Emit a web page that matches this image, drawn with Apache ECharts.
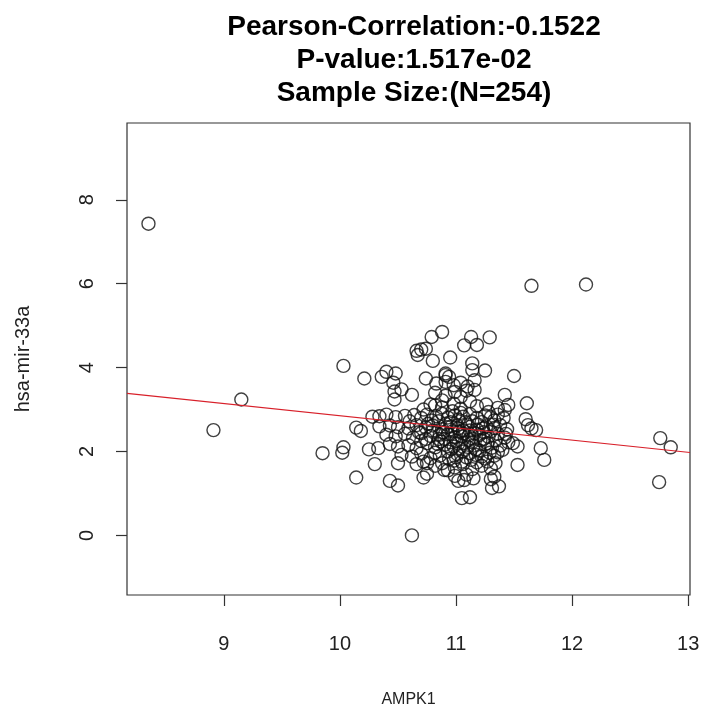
<!DOCTYPE html>
<html>
<head>
<meta charset="utf-8">
<script src="https://cdn.jsdelivr.net/npm/echarts@6/dist/echarts.min.js"></script>
<style>html,body{margin:0;padding:0;background:#fff;}#chart{width:704px;height:709px;}</style>
</head>
<body>
<div id="chart"></div>
<script>
// Chart text
var titleLines = ['Pearson-Correlation:-0.1522', 'P-value:1.517e-02', 'Sample Size:(N=254)'];
var xName = 'AMPK1';
var yName = 'hsa-mir-33a';
var xTicks = [9, 10, 11, 12, 13];
var yTicks = [0, 2, 4, 6, 8];
var xRange = [8.165, 13.016];
var yRange = [-1.42, 9.83];

// [AMPK1, hsa-mir-33a] pairs
var sparsePoints = [
  [8.35,7.43],[11.65,5.95],[12.12,5.98],[9.15,3.24],[8.91,2.51],[10.62,0.00],[12.76,2.32],[12.85,2.10],[12.75,1.27],
  [10.03,4.04],[9.85,1.96],[10.03,2.10],[10.02,1.97],[10.14,1.38],[10.21,3.74],[10.14,2.57],[10.18,2.49],[10.25,2.05],
  [10.33,2.08],[10.30,1.70],[10.28,2.83],[10.43,1.30],[10.50,1.19],[10.50,1.72],[10.36,3.78],[10.40,3.90],[10.48,3.86],
  [10.46,3.64],[10.53,3.48],[10.47,3.43],[10.47,3.24],[10.62,3.35],[10.66,4.40],[10.70,4.43],[10.74,4.45],[10.67,4.30],
  [10.79,4.73],[10.88,4.85],[10.80,4.16],[10.74,3.74],[10.95,4.24],[11.13,4.73],[11.07,4.53],[11.18,4.54],[11.29,4.72],
  [11.14,4.10],[11.25,3.93],[11.14,3.94],[11.16,3.70],[11.16,3.47],[11.50,3.80],[11.42,3.35],[11.45,3.11],[11.42,2.99],
  [11.61,3.15],[11.60,2.77],[11.62,2.63],[11.65,2.55],[11.69,2.51],[11.73,2.08],[11.76,1.80],[11.53,1.68],[11.49,2.20],
  [11.53,2.12],[11.45,2.22],[11.37,1.17],[11.31,1.13],[11.05,0.89],[11.12,0.91],[11.15,1.36],[11.07,1.32],[10.72,1.38],
  [10.75,1.47],[10.90,1.56],[10.72,1.76],[10.75,1.72],[10.91,3.82],[10.94,3.78],[10.91,3.86]
];
var clusterUpper = [
  [10.83,3.62],[10.91,3.66],[10.98,3.58],[11.04,3.64],[11.10,3.55],
  [10.82,3.40],[10.91,3.33],[10.99,3.42],[11.04,3.30],[11.09,3.45],
  [10.82,3.10],[10.88,3.05],[10.98,3.14],[11.04,3.02],[11.18,3.08],[11.26,3.12],[11.36,3.04],[10.72,3.00],
  [10.34,2.84],[10.40,2.88],[10.48,2.82],[10.56,2.85],[10.64,2.87],[10.70,2.80],[10.75,2.88],[10.83,2.84],[10.88,2.90],
  [10.93,2.81],[10.99,2.86],[11.06,2.83],[11.12,2.89],[11.18,2.80],[11.25,2.86],[11.30,2.82],[11.36,2.88],[11.41,2.80],
  [10.60,2.72],[10.79,2.74],[10.95,2.70],[11.02,2.76],[11.14,2.72],[11.22,2.70],[11.33,2.74]
];
var clusterMiddle = [
  [10.34,2.60],[10.43,2.62],[10.50,2.58],[10.59,2.55],[10.66,2.63],[10.74,2.57],[10.80,2.62],[10.88,2.53],[10.96,2.60],
  [11.02,2.55],[11.10,2.64],[11.18,2.52],[11.26,2.60],[11.33,2.56],[11.38,2.63],[11.44,2.53],[10.91,2.66],[11.06,2.50],
  [10.40,2.40],[10.48,2.36],[10.56,2.42],[10.63,2.33],[10.70,2.44],[10.78,2.37],[10.85,2.30],[10.93,2.41],[10.99,2.34],
  [11.06,2.43],[11.14,2.31],[11.20,2.39],[11.28,2.35],[11.36,2.42],[11.42,2.33],[10.89,2.46],[11.03,2.47],[11.24,2.46],
  [11.11,2.38],[10.74,2.30]
];
var clusterLower = [
  [10.43,2.18],[10.50,2.12],[10.59,2.15],[10.66,2.08],[10.75,2.20],[10.82,2.10],[10.90,2.16],[10.96,2.06],[11.02,2.19],
  [11.10,2.11],[11.17,2.05],[11.25,2.17],[11.31,2.09],[11.38,2.14],[10.87,2.24],[11.00,2.26],[11.14,2.22],[11.21,2.27],
  [10.70,2.25],[11.06,2.00],
  [10.53,1.92],[10.62,1.88],[10.70,1.95],[10.78,1.84],[10.86,1.90],[10.94,1.82],[11.01,1.94],[11.09,1.86],[11.17,1.92],
  [11.25,1.83],[11.33,1.90],[10.98,1.78],[11.13,1.80],[11.29,1.97],[10.82,1.97],
  [10.66,1.70],[10.82,1.66],[10.88,1.72],[10.99,1.62],[11.06,1.70],[11.14,1.58],[11.22,1.66],[11.30,1.60],[11.34,1.72],
  [10.93,1.55],
  [10.99,1.42],[11.09,1.45],[11.30,1.34],[11.33,1.40],[11.02,1.30]
];
var clusterCore = [
  [10.85,2.72],[10.92,2.58],[10.97,2.48],[11.01,2.62],[11.05,2.36],[11.08,2.70],[11.12,2.50],[11.16,2.44],[11.19,2.64],
  [11.23,2.55],[10.86,2.40],[10.90,2.30],[10.95,2.22],[10.98,2.12],[11.03,2.08],[11.07,2.20],[11.11,2.28],[11.15,2.14],
  [11.20,2.02],[11.24,2.30],[11.27,2.20],[11.30,2.48],[11.34,2.26],[10.80,2.50],[10.76,2.66],[10.84,2.18],[10.93,2.00],
  [11.00,1.86],[11.05,1.76],[11.12,1.96],[11.18,1.74],[11.22,1.88],[11.27,1.76],[11.36,1.98],[11.40,2.04],[11.43,2.42],
  [11.32,2.64],[11.04,2.92],[10.97,2.96],[11.12,3.20],[10.88,3.22],[10.78,3.12],[11.28,2.94],[10.68,2.46]
];
// Regression line end points (AMPK1, fitted value)
var fitX = [8.165, 13.016];
var fitY = [3.386, 1.975];

var allPoints = sparsePoints.concat(clusterUpper, clusterMiddle, clusterLower, clusterCore);
var fitLine = fitX.map(function (x, i) { return [x, fitY[i]]; });

var FONT = '"Liberation Sans", Arial, Helvetica, sans-serif';
var chart = echarts.init(document.getElementById('chart'), null, { renderer: 'canvas' });
chart.setOption({
  backgroundColor: '#ffffff',
  animation: false,
  title: {
    text: titleLines.join('\n'),
    left: 409,
    top: 6,
    textAlign: 'center',
    textStyle: { fontFamily: FONT, fontSize: 28, fontWeight: 'bold', color: '#000', lineHeight: 33 }
  },
  grid: {
    left: 127, right: 14, top: 123, bottom: 114,
    outerBoundsMode: 'none', containLabel: false,
    show: true, borderColor: '#333', borderWidth: 1.2, backgroundColor: 'transparent'
  },
  xAxis: {
    type: 'value', min: xRange[0], max: xRange[1],
    name: xName, nameLocation: 'middle', nameGap: 97,
    nameTextStyle: { fontFamily: FONT, fontSize: 16, color: '#222' },
    splitLine: { show: false },
    axisLine: { show: false, onZero: false },
    axisTick: { show: true, inside: false, length: 11, customValues: xTicks, lineStyle: { color: '#333', width: 1.2 } },
    axisLabel: { customValues: xTicks, margin: 39, fontFamily: FONT, fontSize: 20, color: '#222' }
  },
  yAxis: {
    type: 'value', min: yRange[0], max: yRange[1],
    name: yName, nameLocation: 'middle', nameGap: 94, nameRotate: 90,
    nameTextStyle: { fontFamily: FONT, fontSize: 20, color: '#222' },
    splitLine: { show: false },
    axisLine: { show: false, onZero: false },
    axisTick: { show: true, inside: false, length: 11, customValues: yTicks, lineStyle: { color: '#333', width: 1.2 } },
    axisLabel: { customValues: yTicks, rotate: 90, margin: 30, fontFamily: FONT, fontSize: 20, color: '#222' }
  },
  series: [
    {
      type: 'scatter', data: allPoints, symbol: 'circle', symbolSize: 13,
      itemStyle: { color: 'rgba(0,0,0,0)', borderColor: '#111', borderWidth: 1.4 },
      silent: true
    },
    {
      type: 'line', data: fitLine, symbol: 'none', silent: true,
      lineStyle: { color: '#d8202a', width: 1.1 }
    }
  ]
});
</script>
</body>
</html>
